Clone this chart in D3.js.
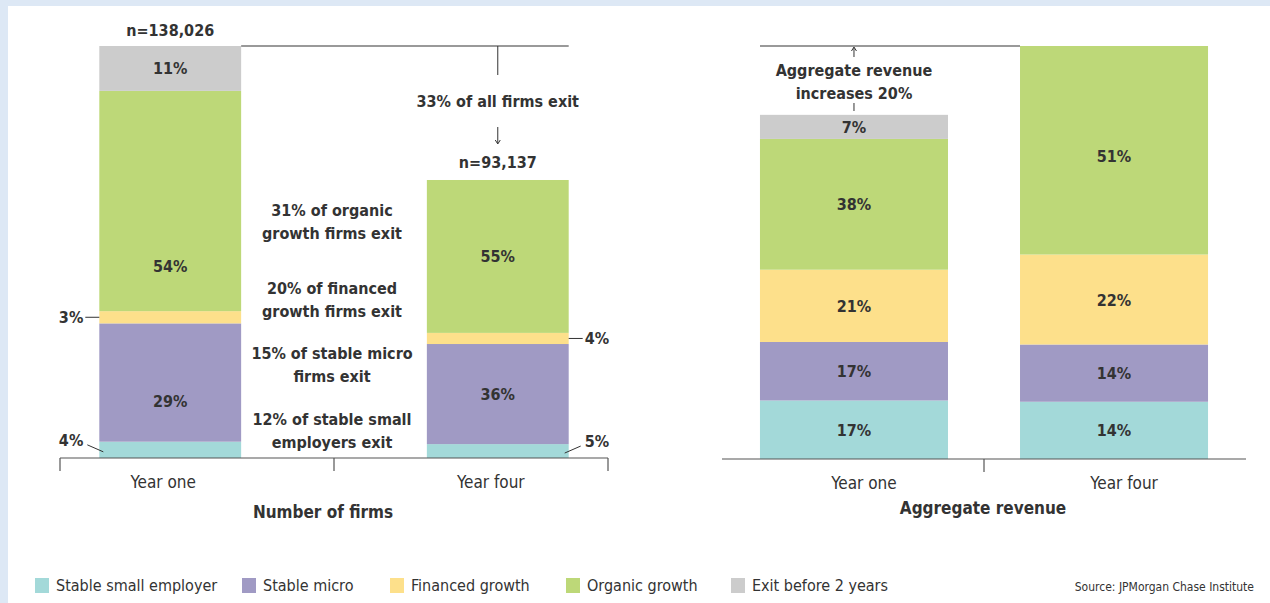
<!DOCTYPE html>
<html>
<head>
<meta charset="utf-8">
<script src="https://cdn.jsdelivr.net/npm/d3@7"></script>
<style>
  html, body { margin: 0; padding: 0; background: #dde8f5; }
  svg { display: block; }
  text { font-family: "Liberation Sans Narrow", "DejaVu Sans Condensed", "Liberation Sans", sans-serif; fill: #333; }
</style>
</head>
<body>
<svg id="chart" width="1270" height="603"></svg>
<script>
var years = ["Year one", "Year four"];
var segments = ["Stable small employer", "Stable micro", "Financed growth", "Organic growth", "Exit before 2 years"];
var colors = ["#a3d9d9", "#a09ac4", "#fde08b", "#bdd878", "#cccccc"];

// number of firms
var firmCounts = [138026, 93137];
var firmLabels = ["n=138,026", "n=93,137"];
var firmShares = [
    [4, 29, 3, 54, 11],
    [5, 36, 4, 55, 0]
];
var exitNotes = [
    ["31% of organic", "growth firms exit"],
    ["20% of financed", "growth firms exit"],
    ["15% of stable micro", "firms exit"],
    ["12% of stable small", "employers exit"]
];

// aggregate revenue (year one = 100)
var revenueIndex = [100, 120];
var revenueShares = [
    [17, 17, 21, 38, 7],
    [14, 14, 22, 51, 0]
];

var svg = d3.select("#chart");
svg.append("rect").attr("x", 8).attr("y", 6).attr("width", 1262).attr("height", 597).attr("fill", "#fff");

// rounded shares may not sum to 100, so scale each bar by its own sum
function stackRows(shares, totals) {
    return shares.map(function(row, i) {
        var acc = 0, sum = d3.sum(row);
        return row.map(function(v, k) {
            var d = {year: years[i], k: k, v: v, y0: acc * totals[i] / sum, y1: (acc + v) * totals[i] / sum};
            acc += v;
            return d;
        });
    });
}

function drawPanel(opt) {
    var x = d3.scaleBand().domain(years).range(opt.xr)
        .paddingInner(opt.pi).paddingOuter(opt.po);
    var y = d3.scaleLinear().domain([0, opt.max]).range([opt.base, 46]);
    var g = svg.append("g");
    var rows = stackRows(opt.shares, opt.totals);
    var nudge = opt.nudge || {};

    rows.forEach(function(row) {
        var bars = g.selectAll(null).data(row.filter(function(d) { return d.v > 0; })).enter();
        bars.append("rect")
            .attr("x", function(d) { return x(d.year); })
            .attr("width", x.bandwidth())
            .attr("y", function(d) { return y(d.y1); })
            .attr("height", function(d) { return y(d.y0) - y(d.y1); })
            .attr("fill", function(d) { return colors[d.k]; });
        bars.filter(function(d) { return d.v >= 7; }).append("text")
            .attr("x", function(d) { return x(d.year) + x.bandwidth() / 2; })
            .attr("y", function(d) { return (y(d.y0) + y(d.y1)) / 2 + 6 + (nudge[d.year + d.k] || 0); })
            .attr("text-anchor", "middle")
            .attr("font-size", 16).attr("font-weight", "bold")
            .text(function(d) { return d.v + "%"; });
    });

    // baseline axis
    var axis = g.append("g").attr("transform", "translate(0," + opt.base + ")");
    axis.append("line").attr("x1", opt.xr[0]).attr("x2", opt.xr[1])
        .attr("stroke", "#555").attr("stroke-width", 1.2);
    var mid = (x(years[0]) + x(years[1]) + x.bandwidth()) / 2;
    var ticks = opt.endTicks ? [opt.xr[0], mid, opt.xr[1]] : [mid];
    axis.selectAll(".tk").data(ticks).enter().append("line")
        .attr("x1", function(d) { return d; }).attr("x2", function(d) { return d; })
        .attr("y1", 0).attr("y2", 13).attr("stroke", "#555").attr("stroke-width", 1.2);
    axis.selectAll(".yl").data(years).enter().append("text")
        .attr("x", function(d) { return x(d) + x.bandwidth() / 2 + opt.labelDx; })
        .attr("y", 30).attr("text-anchor", "middle")
        .attr("font-size", 17).attr("fill", "#555")
        .text(function(d) { return d; });
    axis.append("text").attr("x", mid + opt.titleDx).attr("y", opt.titleDy)
        .attr("text-anchor", "middle").attr("font-size", 17).attr("font-weight", "bold")
        .text(opt.title);
    return {x: x, y: y, g: g, rows: rows};
}

function arrowHead(g, cx, cy, dir) {
    g.append("path")
        .attr("d", "M" + (cx - 2.5) + "," + (cy - dir * 4) + "L" + cx + "," + cy + "L" + (cx + 2.5) + "," + (cy - dir * 4))
        .attr("fill", "none").attr("stroke", "#333").attr("stroke-width", 1);
}

// ---- left: number of firms ----
var L = drawPanel({
    xr: [60, 608], pi: 0.567, po: 0.12, base: 458,
    max: firmCounts[0], totals: firmCounts, shares: firmShares,
    endTicks: true, title: "Number of firms", titleDy: 60, titleDx: -11, labelDx: -7,
    nudge: {"Year one3": 65, "Year one1": 18}
});
var lx = L.x, ly = L.y, lg = L.g;
var c1 = lx(years[0]) + lx.bandwidth() / 2, c2 = lx(years[1]) + lx.bandwidth() / 2;

lg.append("text").attr("x", c1).attr("y", ly(firmCounts[0]) - 10).attr("text-anchor", "middle")
    .attr("font-size", 16).attr("font-weight", "bold").text(firmLabels[0]);
lg.append("text").attr("x", c2).attr("y", ly(firmCounts[1]) - 12).attr("text-anchor", "middle")
    .attr("font-size", 16).attr("font-weight", "bold").text(firmLabels[1]);

// 33% bracket
lg.append("line").attr("x1", lx(years[0]) + lx.bandwidth()).attr("x2", lx(years[1]) + lx.bandwidth())
    .attr("y1", ly(firmCounts[0])).attr("y2", ly(firmCounts[0])).attr("stroke", "#777").attr("stroke-width", 1.5);
lg.append("line").attr("x1", c2).attr("x2", c2).attr("y1", ly(firmCounts[0])).attr("y2", 75)
    .attr("stroke", "#333").attr("stroke-width", 1);
lg.append("text").attr("x", c2).attr("y", 107).attr("text-anchor", "middle")
    .attr("font-size", 16).attr("font-weight", "bold").text("33% of all firms exit");
lg.append("line").attr("x1", c2).attr("x2", c2).attr("y1", 127).attr("y2", 143)
    .attr("stroke", "#333").attr("stroke-width", 1);
arrowHead(lg, c2, 144, 1);

// exit notes between the bars
var noteY = [216, 294, 359, 425];
exitNotes.forEach(function(lines, i) {
    var t = lg.append("text").attr("x", 332).attr("y", noteY[i]).attr("text-anchor", "middle")
        .attr("font-size", 16).attr("font-weight", "bold");
    lines.forEach(function(s, j) {
        t.append("tspan").attr("x", 332).attr("dy", j ? 22.5 : 0).text(s);
    });
});

// small segment callouts
function callout(d, side, diag) {
    var bx = side < 0 ? lx(d.year) : lx(d.year) + lx.bandwidth();
    var my = (ly(d.y0) + ly(d.y1)) / 2;
    var ty, x1, y1, x2, y2;
    if (diag) {
        x2 = bx + side * -4; y2 = my + 2;
        x1 = bx + side * 12; y1 = my - 5;
        ty = my - 4;
    } else {
        x1 = bx; x2 = bx + side * 14; y1 = y2 = my;
        ty = my + 6;
    }
    lg.append("line").attr("x1", x1).attr("y1", y1).attr("x2", x2).attr("y2", y2)
        .attr("stroke", "#333").attr("stroke-width", 1);
    lg.append("text").attr("x", bx + side * 16).attr("y", ty)
        .attr("text-anchor", side < 0 ? "end" : "start")
        .attr("font-size", 16).attr("font-weight", "bold").text(d.v + "%");
}
callout(L.rows[0][2], -1, false);
callout(L.rows[0][0], -1, true);
callout(L.rows[1][2], 1, false);
callout(L.rows[1][0], 1, true);

// ---- right: aggregate revenue ----
var R = drawPanel({
    xr: [722, 1246], pi: 0.277, po: 0.146, base: 459,
    max: revenueIndex[1], totals: revenueIndex, shares: revenueShares,
    endTicks: false, title: "Aggregate revenue", titleDy: 55, titleDx: -1, labelDx: 10,
    nudge: {"Year four3": 6}
});
var rx = R.x, ry = R.y, rg = R.g;
var r1 = rx(years[0]) + rx.bandwidth() / 2;
rg.append("line").attr("x1", rx(years[0])).attr("x2", rx(years[1]))
    .attr("y1", ry(revenueIndex[1])).attr("y2", ry(revenueIndex[1])).attr("stroke", "#777").attr("stroke-width", 1.5);
rg.append("line").attr("x1", r1).attr("x2", r1).attr("y1", 48).attr("y2", 57)
    .attr("stroke", "#333").attr("stroke-width", 1);
arrowHead(rg, r1, 47, -1);
var at = rg.append("text").attr("x", r1).attr("y", 76).attr("text-anchor", "middle")
    .attr("font-size", 16).attr("font-weight", "bold");
at.append("tspan").attr("x", r1).text("Aggregate revenue");
at.append("tspan").attr("x", r1).attr("dy", 22.5).text("increases 20%");
rg.append("line").attr("x1", r1).attr("x2", r1).attr("y1", 103).attr("y2", 111)
    .attr("stroke", "#333").attr("stroke-width", 1);

// ---- legend ----
var legX = [35, 242, 390, 566, 731];
var leg = svg.append("g").selectAll("g").data(segments).enter().append("g")
    .attr("transform", function(d, i) { return "translate(" + legX[i] + ",578)"; });
leg.append("rect").attr("width", 14).attr("height", 15).attr("fill", function(d, i) { return colors[i]; });
leg.append("text").attr("x", 21).attr("y", 13).attr("font-size", 16).attr("fill", "#555")
    .text(function(d) { return d; });

svg.append("text").attr("x", 1254).attr("y", 591).attr("text-anchor", "end")
    .attr("font-size", 12).attr("fill", "#666").text("Source: JPMorgan Chase Institute");
</script>
</body>
</html>
